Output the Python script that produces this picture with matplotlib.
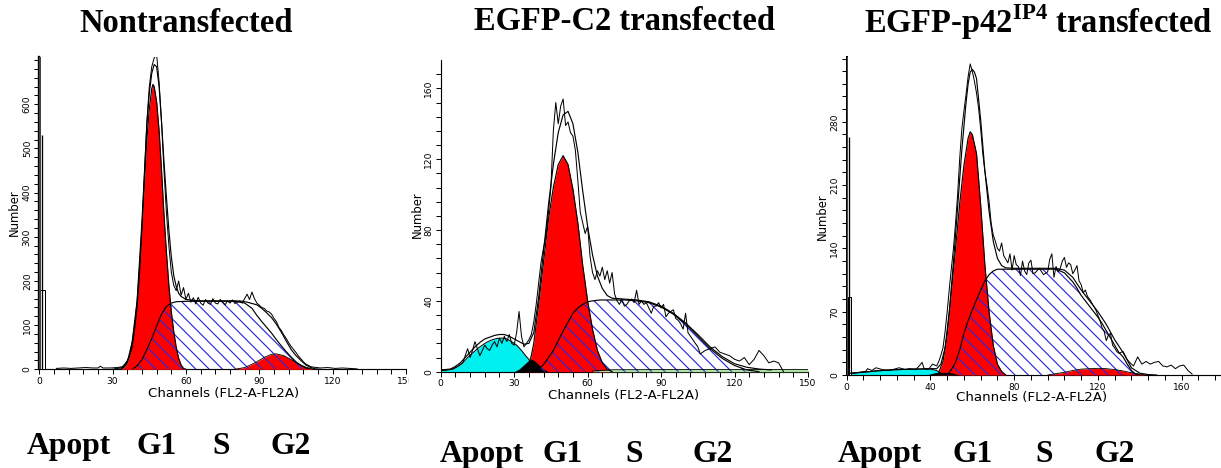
import matplotlib.pyplot as plt
from matplotlib.patches import Rectangle

plt.rcParams['font.family'] = ['DejaVu Sans']
plt.rcParams['mathtext.fontset'] = 'custom'
plt.rcParams['mathtext.bf'] = 'Liberation Serif:bold'
plt.rcParams['mathtext.rm'] = 'Liberation Serif:bold'
plt.rcParams['hatch.linewidth'] = 0.7

ANCHO, ALTO, DPI = 1221, 468, 120
AZUL = '#2b2bdc'
ROJO = '#ff0000'
CIAN = '#00f0f0'
RAYADO = chr(92) * 3  # barras invertidas: lineas diagonales

# ---------------- Panel 1: Nontransfected ----------------
raw1_ch = [7, 10, 13, 16, 19, 22, 24, 25, 26, 29, 32, 34, 35, 36, 37, 38, 39, 40, 41, 42, 43, 44, 45, 46, 47, 48,
           49, 50, 51, 52, 53, 54, 55, 56, 57, 58, 59, 60, 61, 62, 63, 64, 65, 66, 67, 68, 69, 70, 71, 72, 73, 74,
           75, 76, 77, 78, 79, 80, 81, 82, 83, 84, 85, 86, 87, 88, 89, 90, 91, 92, 93, 94, 95, 96, 97, 98, 99, 100,
           101, 102, 103, 104, 105, 106, 107, 108, 109, 110, 111, 112, 115, 118, 121, 124, 127, 130]
raw1_val = [2, 3, 2, 3, 4, 3, 3, 7, 3, 3, 4, 6, 12, 20, 32, 50, 90, 140, 215, 320, 440, 560, 640, 685, 705, 712,
            650, 560, 450, 355, 280, 220, 190, 178, 200, 168, 185, 158, 172, 152, 162, 148, 163, 150, 145, 158, 150,
            147, 160, 150, 148, 158, 152, 146, 155, 150, 157, 149, 152, 155, 150, 160, 170, 158, 175, 160, 150, 145,
            140, 138, 132, 130, 125, 115, 108, 95, 88, 78, 70, 60, 52, 45, 38, 30, 24, 17, 12, 9, 6, 5, 3, 4, 2, 3,
            2, 1]
fit1_ch = [30, 34, 36, 38, 40, 42, 44, 45, 46, 47, 48, 49, 50, 51, 52, 53, 54, 55, 56, 57, 58, 60, 65, 70, 75, 80,
           83, 85, 87, 89, 91, 93, 95, 97, 99, 101, 103, 105, 107, 109, 111, 113, 115]
fit1_val = [0, 4, 16, 62, 155, 335, 555, 625, 670, 690, 685, 640, 560, 470, 390, 315, 255, 212, 188, 172, 165, 158,
            155, 155, 155, 155, 154, 152, 149, 146, 138, 128, 117, 102, 84, 64, 45, 31, 20, 10, 4, 1, 0]
g1_1_ch = [33, 34, 35, 36, 37, 38, 39, 40, 41, 42, 43, 44, 45, 46, 46.5, 47, 48, 49, 50, 51, 52, 53, 54, 55, 56,
           57, 58, 59, 60]
g1_1_val = [0, 2, 6, 15, 30, 60, 100, 150, 230, 320, 425, 520, 590, 635, 645, 640, 605, 540, 450, 350, 265, 190,
            130, 85, 50, 25, 10, 2, 0]
s1_ch = [38, 40, 42, 44, 46, 48, 50, 52, 54, 56, 60, 70, 80, 84, 87, 89, 91, 93, 95, 97, 99, 101, 103, 105, 107,
         109, 111]
s1_val = [0, 8, 22, 45, 70, 98, 125, 142, 150, 153, 154, 154, 154, 150, 138, 122, 108, 95, 82, 67, 53, 40, 28, 17,
          9, 3, 0]
g2_1_ch = [80, 84, 88, 92, 95, 97, 100, 103, 106, 109, 112]
g2_1_val = [0, 4, 14, 27, 34, 35, 31, 22, 12, 5, 0]
pico1_val = [720, 531, 180]

# ---------------- Panel 2: EGFP-C2 transfected ----------------
raw2_ch = [0, 3, 5, 7, 9, 10, 11, 12, 13, 14, 15, 16, 17, 18, 19, 20, 21, 22, 23, 24, 25, 26, 27, 28, 29, 30, 31,
           32, 33, 34, 35, 36, 37, 38, 39, 40, 41, 42, 43, 44, 45, 46, 47, 48, 49, 50, 51, 52, 53, 54, 55, 56, 57,
           58, 59, 60, 61, 62, 63, 64, 65, 66, 67, 68, 69, 70, 71, 72, 73, 74, 75, 76, 77, 78, 79, 80, 81, 82, 83,
           84, 85, 86, 87, 88, 89, 90, 91, 92, 93, 94, 95, 96, 97, 98, 99, 100, 101, 102, 103, 104, 105, 106, 108,
           110, 112, 114, 116, 118, 120, 122, 124, 126, 128, 130, 132, 134, 136, 138, 140]
raw2_val = [0.5, 1, 1.5, 3, 5, 9, 13, 8, 12, 17, 13, 9, 12, 15, 13, 12, 15, 17, 14, 19, 16, 20, 17, 21, 16, 15, 22,
            34, 20, 14, 16, 18, 21, 28, 38, 50, 62, 70, 77, 90, 104, 136, 152, 140, 150, 154, 139, 141, 135, 133,
            125, 108, 90, 84, 78, 82, 65, 56, 52, 57, 54, 59, 52, 57, 50, 56, 44, 40, 38, 41, 37, 38, 40, 41, 39,
            46, 38, 40, 38, 39, 36, 33, 37, 37, 39, 36, 38, 31, 33, 34, 35, 30, 29, 27, 24, 33, 22, 20, 18, 16, 14,
            10, 12, 13, 14, 11, 10, 9, 7, 6, 8, 4, 7, 12, 9, 5, 6, 5, 0]
fit2_ch = [0, 4, 6, 8, 10, 12, 14, 16, 18, 20, 22, 24, 26, 28, 30, 32, 34, 36, 38, 40, 42, 44, 46, 48, 50, 52, 54,
           56, 58, 60, 62, 64, 66, 68, 70, 75, 80, 85, 90, 95, 100, 105, 110, 115, 120, 125, 130, 135]
fit2_val = [1, 1.5, 3, 5, 8, 11, 14, 16.5, 18.5, 19.5, 20.5, 21, 21, 20, 18.5, 17, 15.5, 16, 22, 42, 68, 94, 117,
            135, 145, 147, 140, 124, 102, 82, 66, 54, 47, 43, 41.5, 41, 40.5, 39.5, 37, 33, 27.5, 21, 14, 8.5, 4.5,
            2.5, 1.5, 1]
g1_2_ch = [34, 36, 37, 38, 40, 42, 44, 46, 48, 50, 52, 54, 56, 58, 60, 62, 64, 66, 68, 70]
g1_2_val = [0, 4, 9, 16, 38, 62, 86, 104, 117, 122, 117, 103, 84, 60, 40, 24, 12, 5, 1.5, 0]
s2_ch = [38, 40, 42, 44, 46, 48, 50, 52, 54, 56, 58, 60, 62, 65, 70, 75, 80, 85, 90, 95, 100, 105, 110, 115, 120,
         125, 130]
s2_val = [0, 1.5, 4, 8, 12, 17.5, 23, 28, 33, 36, 38, 39.5, 40, 40.5, 40.5, 40.5, 40, 39, 36.5, 32.5, 27, 20, 13,
          7.5, 3.5, 1, 0]
g2_2_ch = [62, 70, 90, 110, 130, 150]
g2_2_val = [0.4, 1.1, 1.2, 1.2, 1.2, 1.2]
apo2_ch = [0, 3, 5, 7, 9, 11, 13, 15, 17, 19, 21, 23, 25, 27, 29, 31, 33, 35, 36, 37, 38]
apo2_val = [1, 1.2, 1.5, 3, 5, 8, 10.5, 13, 15, 16.8, 18, 18.8, 19, 18.5, 17, 15, 12, 8.5, 7, 4, 0]
resto2_ch = [30, 32, 34, 36, 37, 38, 40, 42, 44]
resto2_val = [0, 1.5, 4, 6.5, 7, 6.5, 4, 1.5, 0]

# ---------------- Panel 3: EGFP-p42IP4 transfected ----------------
raw3_ch = [3, 6, 9, 10, 12, 14, 17, 20, 22, 25, 28, 30, 33, 35, 36, 37, 39, 41, 43, 44, 45, 46, 47, 48, 49, 50, 51,
           52, 53, 54, 55, 56, 57, 58, 59, 60, 61, 62, 63, 64, 65, 66, 67, 68, 69, 70, 71, 72, 73, 74, 75, 76, 77,
           78, 79, 80, 81, 82, 83, 84, 85, 86, 87, 88, 89, 90, 92, 94, 96, 97, 98, 99, 100, 101, 102, 103, 104, 105,
           106, 107, 108, 109, 110, 111, 112, 113, 114, 115, 116, 117, 118, 119, 120, 121, 122, 123, 124, 125, 126,
           127, 128, 129, 130, 132, 134, 136, 137, 139, 141, 143, 145, 147, 149, 151, 153, 155, 157, 159, 161, 163,
           165]
raw3_val = [2, 3, 4, 7, 5, 8, 6, 5, 6, 8, 6, 7, 6, 11, 14, 7, 6, 12, 10, 15, 22, 30, 48, 70, 95, 118, 140, 168, 200,
            240, 272, 292, 310, 330, 344, 336, 325, 312, 295, 272, 245, 225, 210, 192, 168, 155, 148, 140, 137, 146,
            132, 128, 124, 134, 116, 132, 122, 120, 110, 126, 115, 111, 124, 127, 112, 113, 118, 111, 114, 128, 134,
            108, 120, 114, 118, 126, 130, 119, 124, 122, 112, 116, 121, 104, 100, 91, 94, 87, 84, 80, 76, 72, 66, 60,
            52, 48, 38, 44, 46, 33, 30, 26, 24, 26, 17, 12, 10, 20, 12, 15, 12, 14, 15, 10, 9, 11, 7, 10, 11, 5, 1]
fit3_ch = [2, 10, 20, 30, 40, 43, 45, 47, 49, 51, 53, 55, 57, 58, 59, 60, 61, 62, 64, 66, 68, 70, 72, 74, 76, 80,
           90, 100, 104, 108, 110, 112, 116, 120, 124, 128, 132, 136, 140, 144, 148]
fit3_val = [2, 3.5, 5.5, 6.5, 7, 7, 12, 30, 70, 125, 186, 249, 301, 322, 335, 338, 335, 328, 282, 226, 181, 148,
            129, 121, 118.5, 118, 118, 118, 116, 108, 101, 94, 82, 70, 56, 39, 25, 8, 2, 0.5, 0]
g1_3_ch = [43, 44, 46, 48, 50, 52, 54, 56, 58, 59, 60, 62, 64, 66, 68, 70, 72, 74, 76]
g1_3_val = [0, 3, 15, 45, 92, 140, 190, 232, 262, 269, 266, 245, 188, 122, 70, 33, 12, 4, 0]
s3_ch = [48, 50, 52, 54, 56, 58, 60, 62, 64, 66, 68, 70, 72, 80, 90, 100, 104, 108, 110, 112, 114, 116, 118, 120,
         122, 124, 126, 128, 130, 132, 134, 136, 138, 140]
s3_val = [0, 6, 14, 28, 46, 60, 72, 83, 94, 104, 111, 115, 117, 117, 117, 117, 113, 103, 96, 88, 82, 76, 70, 64,
          57, 49, 41, 33, 25, 20, 12, 5, 1, 0]
g2_3_ch = [96, 100, 104, 108, 112, 116, 120, 124, 128, 132, 136, 140, 143]
g2_3_val = [0, 1.5, 3, 5, 6.5, 7, 7.4, 7, 6, 4.5, 2.5, 1, 0]
apo3_ch = [2, 5, 10, 15, 20, 25, 30, 35, 40, 43, 45, 47]
apo3_val = [2, 2.5, 3.5, 5, 5.5, 6, 6.3, 6.5, 6.5, 5, 2, 0]
resto3_ch = [38, 42, 46, 50, 54]
resto3_val = [0, 2.5, 3, 2.5, 0]
pico3_val = [360, 263, 86.5]

etiquetas_fases = ['Apopt', 'G1', 'S', 'G2']


def fx(px):
    return px / ANCHO


def fy(py):
    return 1 - py / ALTO


def dibujar_panel(ax, raw, fit, g1, s, g2, apo=None, resto=None, g2_verde=False, pico=None):
    # base blanca de la fase S, luego los picos rellenos
    ax.fill_between(s[0], 0, s[1], color='white', lw=0, zorder=1)
    if apo is not None:
        ax.fill_between(apo[0], 0, apo[1], color=CIAN, lw=0, zorder=2)
        ax.plot(apo[0], apo[1], color='k', lw=0.6, zorder=6)
    ax.fill_between(g1[0], 0, g1[1], color=ROJO, lw=0, zorder=3)
    if g2_verde:
        ax.fill_between(g2[0], 0, g2[1], color='#a8e0a0', lw=0, zorder=3)
    else:
        ax.fill_between(g2[0], 0, g2[1], color=ROJO, lw=0, zorder=3)
    ax.plot(g2[0], g2[1], color='k', lw=0.5, zorder=6)
    if resto is not None:
        ax.fill_between(resto[0], 0, resto[1], color='k', lw=0, zorder=4)
    # rayado azul de la fase S
    ax.fill_between(s[0], 0, s[1], facecolor='none', edgecolor=AZUL, hatch=RAYADO, lw=0, zorder=5)
    ax.plot(g1[0], g1[1], color='k', lw=0.7, zorder=6)
    ax.plot(s[0], s[1], color='k', lw=0.7, zorder=6)
    ax.plot(fit[0], fit[1], color='k', lw=0.7, zorder=7)
    ax.plot(raw[0], raw[1], color='k', lw=0.6, zorder=8)
    if pico is not None:
        ax.bar(0.4, pico[2], width=1.8, align='edge', color='white', edgecolor='k', lw=0.6, zorder=4)
        ax.vlines(1.0, 0, pico[1], color='k', lw=0.8, zorder=9)
        ax.vlines(0.3, 0, pico[0], color='#444444', lw=1.2, zorder=9)
    for lado in ['top', 'right']:
        ax.spines[lado].set_visible(False)
    for lado in ['left', 'bottom']:
        ax.spines[lado].set_linewidth(0.7)
    ax.tick_params(which='both', direction='out', length=3, width=0.6, labelsize=5.5, pad=1.5)
    ax.tick_params(axis='y', labelrotation=90)
    for lab in ax.get_yticklabels():
        lab.set_va('center')
    ax.set_facecolor('none')


fig = plt.figure(figsize=(ANCHO / DPI, ALTO / DPI), dpi=DPI)

ax1 = fig.add_axes([fx(39.3), fy(369.3), 366.7 / ANCHO, 312.3 / ALTO])
ax2 = fig.add_axes([fx(440.7), fy(371.7), 367.3 / ANCHO, 311.7 / ALTO])
ax3 = fig.add_axes([fx(846.7), fy(375), 374.3 / ANCHO, 318.3 / ALTO])
ax2.set_zorder(2)
ax3.set_zorder(2)

ax1.set_xlim(0, 150)
ax1.set_ylim(0, 707)
ax1.set_xticks(range(0, 151, 30))
ax1.set_xticks(range(0, 151, 6), minor=True)
ax1.set_yticks(range(0, 601, 100))
ax1.set_yticks(range(0, 701, 20), minor=True)
dibujar_panel(ax1, (raw1_ch, raw1_val), (fit1_ch, fit1_val), (g1_1_ch, g1_1_val), (s1_ch, s1_val),
              (g2_1_ch, g2_1_val), pico=pico1_val)
ax1.spines['left'].set_linewidth(1.4)

ax2.set_xlim(0, 150)
ax2.set_ylim(0, 176)
ax2.set_xticks(range(0, 151, 30))
ax2.set_xticks(range(0, 151, 6), minor=True)
ax2.set_yticks(range(0, 161, 40))
ax2.set_yticks(range(0, 176, 8), minor=True)
dibujar_panel(ax2, (raw2_ch, raw2_val), (fit2_ch, fit2_val), (g1_2_ch, g1_2_val), (s2_ch, s2_val),
              (g2_2_ch, g2_2_val), apo=(apo2_ch, apo2_val), resto=(resto2_ch, resto2_val), g2_verde=True)

ax3.set_xlim(0, 178.8)
ax3.set_ylim(0, 352)
ax3.set_xticks(range(0, 161, 40))
ax3.set_xticks(range(0, 179, 8), minor=True)
ax3.set_yticks(range(0, 281, 70))
ax3.set_yticks(range(0, 351, 14), minor=True)
dibujar_panel(ax3, (raw3_ch, raw3_val), (fit3_ch, fit3_val), (g1_3_ch, g1_3_val), (s3_ch, s3_val),
              (g2_3_ch, g2_3_val), apo=(apo3_ch, apo3_val), resto=(resto3_ch, resto3_val), pico=pico3_val)
ax3.spines['left'].set_linewidth(1.2)

# tapar parte de la etiqueta 150 como en la figura original
fig.patches.append(Rectangle((fx(408.5), fy(398)), fx(436) - fx(408.5), fy(376) - fy(398),
                             transform=fig.transFigure, color='white', zorder=1))
fig.patches.append(Rectangle((fx(814), fy(398)), fx(832) - fx(814), fy(380) - fy(398),
                             transform=fig.transFigure, color='white', zorder=1))

# ejes: textos
for x_num, y_num, x_ch, y_ch in [(14, 213, 224, 394), (417, 215, 624, 396), (822, 217, 1032, 398)]:
    fig.text(fx(x_num), fy(y_num), 'Number', rotation=90, ha='center', va='center', fontsize=7)
    fig.text(fx(x_ch), fy(y_ch), 'Channels (FL2-A-FL2A)', ha='center', va='center', fontsize=8)

titulo = dict(family='Liberation Serif', weight='bold', fontsize=19.5, ha='center', va='center')
fig.text(fx(186.5), fy(23), 'Nontransfected', **titulo)
fig.text(fx(624), fy(22), 'EGFP-C2 transfected', **titulo)
fig.text(fx(1038), fy(22), r'EGFP-p42$^{\mathbf{IP4}}$ transfected', **titulo)

fases = dict(family='Liberation Serif', weight='bold', fontsize=19, ha='left', va='baseline')
for xs, yb in [([27, 137, 212, 270], 454), ([440, 543, 625, 692], 462), ([838, 952, 1035, 1094], 462)]:
    for x, txt in zip(xs, etiquetas_fases):
        fig.text(fx(x), fy(yb), txt, **fases)

fig.savefig('out.png', dpi=DPI)
